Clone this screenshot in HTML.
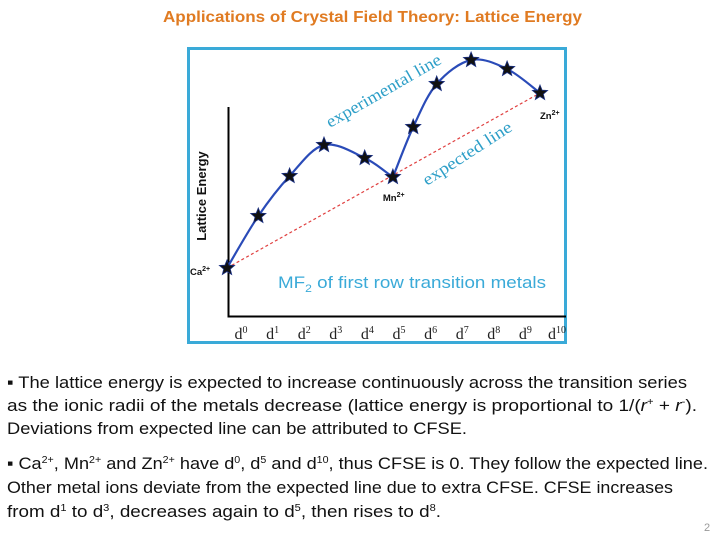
<!DOCTYPE html>
<html><head><meta charset="utf-8"><style>
html,body{margin:0;padding:0;background:#fff;width:720px;height:540px;overflow:hidden}
svg{display:block}
</style></head><body>
<svg id="chart" width="720" height="540" viewBox="0 0 720 540" xmlns="http://www.w3.org/2000/svg" font-family="'Liberation Sans', sans-serif">
<text x="163" y="22" font-size="16" font-weight="bold" fill="#e07b22" textLength="419" lengthAdjust="spacingAndGlyphs">Applications of Crystal Field Theory: Lattice Energy</text>
<rect x="188.5" y="48.5" width="377" height="294" fill="#fff" stroke="#3aaad8" stroke-width="3"/>
<g id="plot"></g>
<text transform="translate(206,196) rotate(-90)" text-anchor="middle" font-size="13" font-weight="bold" fill="#111">Lattice Energy</text>
<text transform="translate(330,128) rotate(-30)" font-family="'Liberation Serif', serif" font-size="17" fill="#2e9fc8" textLength="130" lengthAdjust="spacingAndGlyphs">experimental line</text>
<text transform="translate(427,186) rotate(-33)" font-family="'Liberation Serif', serif" font-size="17" fill="#2e9fc8" textLength="103" lengthAdjust="spacingAndGlyphs">expected line</text>
<text x="278" y="288" font-size="17" fill="#3aaad8" textLength="268" lengthAdjust="spacingAndGlyphs">MF<tspan font-size="11" dy="4">2</tspan><tspan dy="-4"> of first row transition metals</tspan></text>
<g font-size="17" fill="#111">
<text x="7" y="388" textLength="680" lengthAdjust="spacingAndGlyphs">▪ The lattice energy is expected to increase continuously across the transition series</text>
<text x="7" y="411" textLength="690" lengthAdjust="spacingAndGlyphs">as  the ionic radii of the metals decrease (lattice energy is proportional to 1/(<tspan font-style="italic">r</tspan><tspan font-size="10" dy="-6">+</tspan><tspan dy="6"> + </tspan><tspan font-style="italic">r</tspan><tspan font-size="10" dy="-6">-</tspan><tspan dy="6">).</tspan></text>
<text x="7" y="434" textLength="460" lengthAdjust="spacingAndGlyphs">Deviations from expected line can be attributed to CFSE.</text>
<text x="7" y="469" textLength="701" lengthAdjust="spacingAndGlyphs">▪ Ca<tspan font-size="10" dy="-6">2+</tspan><tspan dy="6">, Mn</tspan><tspan font-size="10" dy="-6">2+</tspan><tspan dy="6"> and Zn</tspan><tspan font-size="10" dy="-6">2+</tspan><tspan dy="6"> have d</tspan><tspan font-size="10" dy="-6">0</tspan><tspan dy="6">, d</tspan><tspan font-size="10" dy="-6">5</tspan><tspan dy="6"> and d</tspan><tspan font-size="10" dy="-6">10</tspan><tspan dy="6">, thus CFSE is 0. They follow the expected line.</tspan></text>
<text x="7" y="493" textLength="666" lengthAdjust="spacingAndGlyphs">Other metal ions deviate from the expected line due to extra CFSE. CFSE increases</text>
<text x="7" y="517" textLength="434" lengthAdjust="spacingAndGlyphs">from d<tspan font-size="10" dy="-6">1</tspan><tspan dy="6"> to d</tspan><tspan font-size="10" dy="-6">3</tspan><tspan dy="6">, decreases again to d</tspan><tspan font-size="10" dy="-6">5</tspan><tspan dy="6">, then rises to d</tspan><tspan font-size="10" dy="-6">8</tspan><tspan dy="6">.</tspan></text>
</g>
<text x="704" y="531" font-size="11" fill="#999">2</text>
</svg>
<script>
const categories = ["d0","d1","d2","d3","d4","d5","d6","d7","d8","d9","d10"];
const tickSup = ["0","1","2","3","4","5","6","7","8","9","10"];
const pointPosition = [0, 1, 2, 3.1, 4.4, 5.3, 5.95, 6.7, 7.8, 8.95, 10];
const latticeEnergy = [32, 84, 124, 155, 142, 123, 173, 216, 240, 231, 207];
const ionLabels = {0:"Ca", 5:"Mn", 10:"Zn"};

const NS = "http://www.w3.org/2000/svg";
const g = document.getElementById("plot");
const x0 = 227, step = 31.3;
function xScale(u){ return x0 + u*step; }
function tickX(i){ return 241 + i*31.6; }
function yScale(v){ return 300 - v; }
function mk(tag, attrs){ const e = document.createElementNS(NS, tag); for (const k in attrs) e.setAttribute(k, attrs[k]); g.appendChild(e); return e; }

let ax = mk("path", {d:"M228.5 107 V316.5 H566", fill:"none", stroke:"#000", "stroke-width":2});



const n = latticeEnergy.length - 1;
let ex = mk("line", {x1:xScale(pointPosition[0]), y1:yScale(latticeEnergy[0]), x2:xScale(pointPosition[n]), y2:yScale(latticeEnergy[n]), stroke:"#e04040", "stroke-width":1.2, "stroke-dasharray":"3,2.5"});



const pts = latticeEnergy.map((v,i)=>[xScale(pointPosition[i]), yScale(v)]);
let d = "M"+pts[0][0]+" "+pts[0][1];
for (let i=0;i<pts.length-1;i++){
  const p0 = pts[Math.max(0,i-1)], p1 = pts[i], p2 = pts[i+1], p3 = pts[Math.min(pts.length-1,i+2)];
  const sharpStart = (i===5), sharpEnd = (i+1===5);
  const c1x = sharpStart ? p1[0]+(p2[0]-p1[0])/3 : p1[0]+(p2[0]-p0[0])/6;
  const c1y = sharpStart ? p1[1]+(p2[1]-p1[1])/3 : p1[1]+(p2[1]-p0[1])/6;
  const c2x = sharpEnd ? p2[0]-(p2[0]-p1[0])/3 : p2[0]-(p3[0]-p1[0])/6;
  const c2y = sharpEnd ? p2[1]-(p2[1]-p1[1])/3 : p2[1]-(p3[1]-p1[1])/6;
  d += " C"+c1x+" "+c1y+" "+c2x+" "+c2y+" "+p2[0]+" "+p2[1];
}
let cur = mk("path", {d:d, fill:"none", stroke:"#2a4bb8", "stroke-width":2.2});



function starPath(cx, cy, R, r){
  let s = "";
  for (let k=0;k<10;k++){
    const a = -Math.PI/2 + k*Math.PI/5, rr = k%2 ? r : R;
    s += (k?"L":"M") + (cx+rr*Math.cos(a)).toFixed(1) + " " + (cy+rr*Math.sin(a)).toFixed(1);
  }
  return s+"Z";
}
pts.forEach((p,i)=>{
  const st = mk("path", {d:starPath(p[0],p[1],8,3.5), fill:"#111", stroke:"#1a2f80", "stroke-width":0.8});
  
  
});
categories.forEach((c,i)=>{
  const t = mk("text", {x:tickX(i), y:339, "font-family":"'Liberation Serif', serif", "font-size":16, fill:"#222", "text-anchor":"middle"});
  
  
  t.innerHTML = 'd<tspan font-size="10" dy="-6">' + tickSup[i] + '</tspan>';
});
[[0,-37,7],[5,-10,24],[10,0,26]].forEach(([i,dx,dy])=>{
  const t = mk("text", {x:xScale(pointPosition[i])+dx, y:yScale(latticeEnergy[i])+dy, "font-size":9.5, "font-weight":"bold", fill:"#111"});
  
  
  t.innerHTML = ionLabels[i] + '<tspan font-size="7" dy="-4">2+</tspan>';
});
</script>
</body></html>
